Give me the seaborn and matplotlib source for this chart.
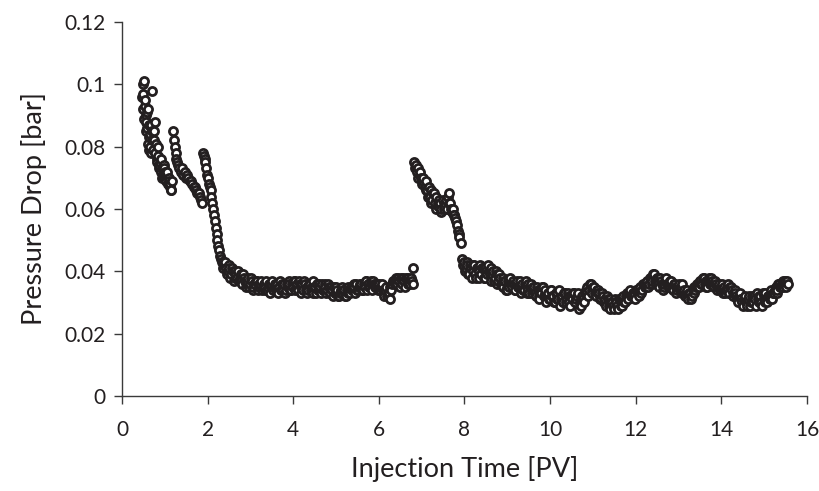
import numpy as np
import pandas as pd
import matplotlib
matplotlib.use("Agg")
import matplotlib.pyplot as plt
import seaborn as sns

# ---- data (Injection Time [PV], Pressure Drop [bar]) ----
t_seg1 = [0.47, 0.49, 0.51, 0.53, 0.55, 0.57, 0.59, 0.61, 0.63, 0.65,
          0.67, 0.69, 0.71, 0.73, 0.75, 0.77, 0.79, 0.81, 0.83, 0.85,
          0.87, 0.89, 0.91, 0.93, 0.95, 0.97, 0.99, 1.01, 1.03, 1.05,
          1.07, 1.09, 1.11, 1.13, 1.15, 1.17]
p_seg1 = [0.096, 0.100, 0.101, 0.093, 0.090, 0.088, 0.086, 0.092, 0.083, 0.080,
          0.087, 0.082, 0.098, 0.079, 0.085, 0.088, 0.081, 0.076, 0.080, 0.077,
          0.074, 0.075, 0.072, 0.073, 0.071, 0.074, 0.070, 0.072, 0.069, 0.071,
          0.068, 0.070, 0.067, 0.068, 0.066, 0.069]
t_seg1b = [0.48, 0.50, 0.52, 0.54, 0.56, 0.58, 0.60, 0.62, 0.64, 0.66,
           0.68, 0.70, 0.74, 0.78, 0.82, 0.86, 0.90, 0.94, 0.98, 1.02,
           1.06, 1.10, 1.14]
p_seg1b = [0.092, 0.097, 0.089, 0.095, 0.085, 0.091, 0.081, 0.087, 0.079, 0.084,
           0.078, 0.085, 0.082, 0.078, 0.075, 0.073, 0.076, 0.070, 0.073, 0.070,
           0.072, 0.069, 0.066]

t_seg2 = [1.19, 1.21, 1.23, 1.25, 1.27, 1.29, 1.31, 1.34, 1.37, 1.40,
          1.43, 1.46, 1.49, 1.52, 1.55, 1.58, 1.61, 1.64, 1.67, 1.70,
          1.73, 1.76, 1.79, 1.82, 1.85, 1.87]
p_seg2 = [0.085, 0.082, 0.080, 0.078, 0.076, 0.075, 0.074, 0.073, 0.072, 0.073,
          0.071, 0.072, 0.070, 0.071, 0.070, 0.069, 0.069, 0.068, 0.067, 0.067,
          0.066, 0.065, 0.065, 0.064, 0.063, 0.062]

t_seg3 = [1.89, 1.91, 1.93, 1.95, 1.97, 1.99, 2.01, 2.03, 2.05, 2.07,
          2.09, 2.11, 2.13, 2.15, 2.17, 2.19, 2.21, 2.23, 2.25, 2.27,
          2.29, 2.31, 2.33]
p_seg3 = [0.078, 0.077, 0.076, 0.075, 0.073, 0.071, 0.070, 0.068, 0.067, 0.066,
          0.064, 0.062, 0.060, 0.058, 0.056, 0.054, 0.052, 0.050, 0.048, 0.047,
          0.045, 0.044, 0.043]

t_seg4 = [2.35, 2.39, 2.43, 2.47, 2.51, 2.55, 2.59, 2.63, 2.67, 2.71,
          2.75, 2.79, 2.83, 2.87, 2.91, 2.95, 2.99, 3.03, 3.07, 3.11,
          3.15, 3.19, 3.23, 3.27, 3.31, 3.35, 3.39, 3.43, 3.47, 3.51,
          3.55, 3.59, 3.63, 3.67, 3.71, 3.75, 3.79, 3.83, 3.87, 3.91,
          3.95, 3.99, 4.03, 4.07, 4.11, 4.15, 4.19, 4.23, 4.27, 4.31,
          4.35, 4.39, 4.43, 4.47, 4.51, 4.55, 4.59, 4.63, 4.67, 4.71,
          4.75, 4.79, 4.83, 4.87, 4.91, 4.95, 4.99, 5.03, 5.07, 5.11,
          5.15, 5.19, 5.23, 5.27, 5.31, 5.35, 5.39, 5.43, 5.47, 5.51,
          5.55, 5.59, 5.63, 5.67, 5.71, 5.75, 5.79, 5.83, 5.87, 5.91,
          5.95, 5.99, 6.03, 6.07, 6.11, 6.15, 6.19, 6.23, 6.27, 6.31,
          6.35, 6.39, 6.43, 6.47, 6.51, 6.55, 6.59, 6.63, 6.67, 6.71,
          6.75, 6.79, 6.80]
p_seg4 = [0.043, 0.042, 0.041, 0.040, 0.041, 0.039, 0.040, 0.038, 0.039, 0.040,
          0.038, 0.037, 0.039, 0.037, 0.036, 0.038, 0.036, 0.037, 0.035, 0.036,
          0.037, 0.035, 0.036, 0.034, 0.036, 0.035, 0.034, 0.036, 0.035, 0.037,
          0.035, 0.034, 0.036, 0.035, 0.034, 0.035, 0.036, 0.034, 0.035, 0.036,
          0.034, 0.035, 0.037, 0.035, 0.034, 0.036, 0.035, 0.034, 0.036, 0.035,
          0.034, 0.036, 0.035, 0.033, 0.035, 0.036, 0.034, 0.035, 0.036, 0.034,
          0.035, 0.034, 0.035, 0.033, 0.034, 0.035, 0.033, 0.034, 0.032, 0.034,
          0.033, 0.034, 0.032, 0.033, 0.034, 0.035, 0.034, 0.035, 0.036, 0.034,
          0.035, 0.036, 0.034, 0.035, 0.037, 0.036, 0.035, 0.036, 0.037, 0.035,
          0.036, 0.035, 0.034, 0.036, 0.033, 0.034, 0.032, 0.033, 0.035, 0.036,
          0.037, 0.038, 0.036, 0.037, 0.038, 0.036, 0.037, 0.038, 0.036, 0.037,
          0.038, 0.036, 0.041]
t_seg4b = [2.37, 2.41, 2.45, 2.49, 2.53, 2.57, 2.61, 2.65, 2.69, 2.73,
           2.77, 2.81, 2.85, 2.89, 2.93, 2.97, 3.01, 3.05, 3.09, 3.13,
           3.17, 3.21, 3.25, 3.29, 3.33, 3.37, 3.41, 3.45, 3.49, 3.53,
           3.57, 3.61, 3.65, 3.69, 3.73, 3.77, 3.81, 3.85, 3.89, 3.93,
           3.97, 4.01, 4.05, 4.09, 4.13, 4.17, 4.21, 4.25, 4.29, 4.33,
           4.37, 4.41, 4.45, 4.49, 4.53, 4.57, 4.61, 4.65, 4.69, 4.73,
           4.77, 4.81, 4.85, 4.89, 4.93, 4.97, 5.01, 5.05, 5.09, 5.13,
           5.17, 5.21, 5.25, 5.29, 5.33, 5.37, 5.41, 5.45, 5.49, 5.53,
           5.57, 5.61, 5.65, 5.69, 5.73, 5.77, 5.81, 5.85, 5.89, 5.93,
           5.97, 6.01, 6.05, 6.09, 6.13, 6.17, 6.21, 6.25, 6.29, 6.33,
           6.37, 6.41, 6.45, 6.49, 6.53, 6.57, 6.61, 6.65, 6.69, 6.73,
           6.77]
p_seg4b = [0.041, 0.043, 0.039, 0.042, 0.038, 0.041, 0.037, 0.040, 0.038, 0.037,
           0.039, 0.036, 0.038, 0.035, 0.037, 0.035, 0.038, 0.034, 0.036, 0.037,
           0.034, 0.036, 0.037, 0.035, 0.034, 0.037, 0.035, 0.033, 0.036, 0.034,
           0.036, 0.035, 0.033, 0.037, 0.036, 0.034, 0.033, 0.036, 0.037, 0.034,
           0.036, 0.037, 0.034, 0.036, 0.037, 0.033, 0.036, 0.037, 0.034, 0.033,
           0.036, 0.034, 0.037, 0.035, 0.033, 0.034, 0.036, 0.033, 0.034, 0.036,
           0.033, 0.036, 0.033, 0.035, 0.032, 0.033, 0.035, 0.032, 0.033, 0.035,
           0.034, 0.032, 0.034, 0.035, 0.033, 0.034, 0.036, 0.033, 0.034, 0.035,
           0.036, 0.034, 0.036, 0.037, 0.034, 0.035, 0.037, 0.034, 0.036, 0.036,
           0.034, 0.036, 0.035, 0.034, 0.032, 0.035, 0.033, 0.031, 0.034, 0.037,
           0.036, 0.037, 0.038, 0.035, 0.037, 0.038, 0.035, 0.037, 0.038, 0.036,
           0.037]

t_seg5 = [6.83, 6.86, 6.89, 6.92, 6.95, 6.98, 7.01, 7.04, 7.07, 7.10,
          7.13, 7.16, 7.19, 7.22, 7.25, 7.28, 7.31, 7.34, 7.37, 7.40,
          7.43, 7.46, 7.49, 7.52, 7.55, 7.58, 7.61, 7.64, 7.67, 7.70,
          7.73, 7.76, 7.79, 7.82, 7.85, 7.88, 7.91]
p_seg5 = [0.075, 0.074, 0.072, 0.073, 0.071, 0.070, 0.068, 0.070, 0.067, 0.069,
          0.066, 0.067, 0.064, 0.066, 0.063, 0.065, 0.062, 0.064, 0.061, 0.063,
          0.062, 0.060, 0.063, 0.061, 0.062, 0.060, 0.064, 0.065, 0.062, 0.059,
          0.060, 0.058, 0.057, 0.055, 0.053, 0.051, 0.049]
t_seg5b = [6.85, 6.91, 6.97, 7.03, 7.09, 7.15, 7.21, 7.27, 7.33, 7.39,
           7.45, 7.51, 7.57, 7.63, 7.69, 7.75, 7.81, 7.87]
p_seg5b = [0.073, 0.070, 0.072, 0.069, 0.066, 0.064, 0.062, 0.065, 0.060, 0.062,
           0.059, 0.060, 0.063, 0.062, 0.060, 0.058, 0.056, 0.052]

t_seg6 = [7.95, 7.99, 8.03, 8.07, 8.11, 8.15, 8.19, 8.23, 8.27, 8.31,
          8.35, 8.39, 8.43, 8.47, 8.51, 8.55, 8.59, 8.63, 8.67, 8.71,
          8.75, 8.79, 8.83, 8.87, 8.91, 8.95, 8.99, 9.03, 9.07, 9.11,
          9.15, 9.19, 9.23, 9.27, 9.31, 9.35, 9.39, 9.43, 9.47, 9.51,
          9.55, 9.59, 9.63, 9.67, 9.71, 9.75, 9.79, 9.83, 9.87, 9.91,
          9.95, 9.99, 10.03, 10.07, 10.11, 10.15, 10.19, 10.23, 10.27, 10.31,
          10.35, 10.39, 10.43, 10.47, 10.51, 10.55, 10.59, 10.63, 10.67, 10.71,
          10.75, 10.79, 10.83, 10.87, 10.91, 10.95, 10.99, 11.03, 11.07, 11.11,
          11.15, 11.19, 11.23, 11.27, 11.31, 11.35, 11.39, 11.43, 11.47, 11.51,
          11.55, 11.59, 11.63, 11.67, 11.71, 11.75, 11.79, 11.83, 11.87, 11.91,
          11.95, 11.99, 12.03, 12.07, 12.11, 12.15, 12.19, 12.23, 12.27, 12.31,
          12.35, 12.39, 12.43, 12.47, 12.51, 12.55, 12.59, 12.63, 12.67, 12.71,
          12.75, 12.79, 12.83, 12.87, 12.91, 12.95, 12.99, 13.03, 13.07, 13.11,
          13.15, 13.19, 13.23, 13.27, 13.31, 13.35, 13.39, 13.43, 13.47, 13.51,
          13.55, 13.59, 13.63, 13.67, 13.71, 13.75, 13.79, 13.83, 13.87, 13.91,
          13.95, 13.99, 14.03, 14.07, 14.11, 14.15, 14.19, 14.23, 14.27, 14.31,
          14.35, 14.39, 14.43, 14.47, 14.51, 14.55, 14.59, 14.63, 14.67, 14.71,
          14.75, 14.79, 14.83, 14.87, 14.91, 14.95, 14.99, 15.03, 15.07, 15.11,
          15.15, 15.19, 15.23, 15.27, 15.31, 15.35, 15.39, 15.43, 15.47, 15.51,
          15.55]
p_seg6 = [0.044, 0.043, 0.041, 0.042, 0.039, 0.041, 0.040, 0.042, 0.038, 0.041,
          0.040, 0.039, 0.041, 0.038, 0.040, 0.042, 0.039, 0.037, 0.040, 0.038,
          0.039, 0.037, 0.038, 0.036, 0.035, 0.037, 0.034, 0.036, 0.038, 0.035,
          0.036, 0.034, 0.037, 0.035, 0.033, 0.036, 0.034, 0.037, 0.035, 0.033,
          0.036, 0.034, 0.035, 0.032, 0.034, 0.031, 0.033, 0.035, 0.032, 0.030,
          0.033, 0.031, 0.034, 0.032, 0.030, 0.033, 0.031, 0.029, 0.032, 0.030,
          0.033, 0.031, 0.032, 0.029, 0.031, 0.033, 0.030, 0.032, 0.028, 0.031,
          0.032, 0.030, 0.033, 0.035, 0.034, 0.036, 0.033, 0.035, 0.032, 0.034,
          0.033, 0.031, 0.032, 0.030, 0.029, 0.031, 0.028, 0.030, 0.029, 0.031,
          0.030, 0.028, 0.031, 0.029, 0.032, 0.030, 0.033, 0.031, 0.034, 0.032,
          0.033, 0.031, 0.034, 0.032, 0.035, 0.034, 0.036, 0.035, 0.037, 0.036,
          0.038, 0.037, 0.039, 0.036, 0.038, 0.035, 0.037, 0.034, 0.036, 0.038,
          0.036, 0.035, 0.037, 0.034, 0.036, 0.033, 0.035, 0.034, 0.036, 0.033,
          0.032, 0.034, 0.031, 0.033, 0.032, 0.035, 0.034, 0.036, 0.035, 0.037,
          0.036, 0.038, 0.037, 0.035, 0.038, 0.036, 0.037, 0.035, 0.036, 0.034,
          0.036, 0.035, 0.033, 0.035, 0.034, 0.036, 0.033, 0.035, 0.032, 0.034,
          0.032, 0.030, 0.033, 0.031, 0.029, 0.032, 0.030, 0.031, 0.029, 0.032,
          0.030, 0.031, 0.033, 0.030, 0.032, 0.029, 0.031, 0.033, 0.030, 0.032,
          0.034, 0.031, 0.033, 0.035, 0.034, 0.036, 0.035, 0.037, 0.036, 0.035,
          0.036]
t_seg6b = [7.97, 8.01, 8.05, 8.09, 8.13, 8.17, 8.21, 8.25, 8.29, 8.33,
           8.37, 8.41, 8.45, 8.49, 8.53, 8.57, 8.61, 8.65, 8.69, 8.73,
           8.77, 8.81, 8.85, 8.89, 8.93, 8.97, 9.01, 9.05, 9.09, 9.13,
           9.17, 9.21, 9.25, 9.29, 9.33, 9.37, 9.41, 9.45, 9.49, 9.53,
           9.57, 9.61, 9.65, 9.69, 9.73, 9.77, 9.81, 9.85, 9.89, 9.93,
           9.97, 10.01, 10.05, 10.09, 10.13, 10.17, 10.21, 10.25, 10.29, 10.33,
           10.37, 10.41, 10.45, 10.49, 10.53, 10.57, 10.61, 10.65, 10.69, 10.73,
           10.77, 10.81, 10.85, 10.89, 10.93, 10.97, 11.01, 11.05, 11.09, 11.13,
           11.17, 11.21, 11.25, 11.29, 11.33, 11.37, 11.41, 11.45, 11.49, 11.53,
           11.57, 11.61, 11.65, 11.69, 11.73, 11.77, 11.81, 11.85, 11.89, 11.93,
           11.97, 12.01, 12.05, 12.09, 12.13, 12.17, 12.21, 12.25, 12.29, 12.33,
           12.37, 12.41, 12.45, 12.49, 12.53, 12.57, 12.61, 12.65, 12.69, 12.73,
           12.77, 12.81, 12.85, 12.89, 12.93, 12.97, 13.01, 13.05, 13.09, 13.13,
           13.17, 13.21, 13.25, 13.29, 13.33, 13.37, 13.41, 13.45, 13.49, 13.53,
           13.57, 13.61, 13.65, 13.69, 13.73, 13.77, 13.81, 13.85, 13.89, 13.93,
           13.97, 14.01, 14.05, 14.09, 14.13, 14.17, 14.21, 14.25, 14.29, 14.33,
           14.37, 14.41, 14.45, 14.49, 14.53, 14.57, 14.61, 14.65, 14.69, 14.73,
           14.77, 14.81, 14.85, 14.89, 14.93, 14.97, 15.01, 15.05, 15.09, 15.13,
           15.17, 15.21, 15.25, 15.29, 15.33, 15.37, 15.41, 15.45, 15.49, 15.53]
p_seg6b = [0.042, 0.040, 0.043, 0.039, 0.042, 0.038, 0.042, 0.039, 0.041, 0.038,
           0.042, 0.041, 0.038, 0.041, 0.039, 0.040, 0.041, 0.039, 0.037, 0.040,
           0.036, 0.039, 0.036, 0.038, 0.037, 0.034, 0.037, 0.035, 0.036, 0.037,
           0.034, 0.036, 0.035, 0.037, 0.035, 0.034, 0.036, 0.033, 0.036, 0.035,
           0.033, 0.035, 0.033, 0.035, 0.032, 0.034, 0.035, 0.032, 0.034, 0.032,
           0.031, 0.034, 0.032, 0.030, 0.033, 0.031, 0.034, 0.031, 0.030, 0.033,
           0.030, 0.033, 0.030, 0.032, 0.033, 0.030, 0.031, 0.033, 0.030, 0.029,
           0.031, 0.033, 0.034, 0.032, 0.036, 0.034, 0.035, 0.033, 0.034, 0.033,
           0.031, 0.033, 0.030, 0.031, 0.032, 0.029, 0.031, 0.030, 0.028, 0.030,
           0.029, 0.031, 0.029, 0.031, 0.030, 0.032, 0.031, 0.033, 0.032, 0.033,
           0.032, 0.034, 0.033, 0.034, 0.033, 0.036, 0.035, 0.036, 0.035, 0.038,
           0.036, 0.039, 0.037, 0.038, 0.036, 0.038, 0.036, 0.035, 0.037, 0.036,
           0.035, 0.037, 0.035, 0.036, 0.035, 0.034, 0.036, 0.035, 0.033, 0.034,
           0.033, 0.032, 0.033, 0.031, 0.034, 0.033, 0.035, 0.035, 0.037, 0.036,
           0.038, 0.036, 0.035, 0.037, 0.036, 0.038, 0.036, 0.037, 0.035, 0.035,
           0.034, 0.036, 0.034, 0.033, 0.035, 0.033, 0.035, 0.034, 0.033, 0.033,
           0.031, 0.032, 0.031, 0.030, 0.031, 0.030, 0.029, 0.032, 0.030, 0.030,
           0.032, 0.029, 0.031, 0.032, 0.030, 0.033, 0.030, 0.031, 0.032, 0.031,
           0.032, 0.033, 0.034, 0.033, 0.036, 0.035, 0.036, 0.035, 0.037, 0.037]

x_ticks = [0, 2, 4, 6, 8, 10, 12, 14, 16]
y_ticks = [0, 0.02, 0.04, 0.06, 0.08, 0.1, 0.12]
y_tick_labels = ["0", "0.02", "0.04", "0.06", "0.08", "0.1", "0.12"]
x_label = "Injection Time [PV]"
y_label = "Pressure Drop [bar]"

# ---- build table ----
seg_t = [t_seg1, t_seg1b, t_seg2, t_seg3, t_seg4, t_seg4b, t_seg5, t_seg5b, t_seg6, t_seg6b]
seg_p = [p_seg1, p_seg1b, p_seg2, p_seg3, p_seg4, p_seg4b, p_seg5, p_seg5b, p_seg6, p_seg6b]
for a, b in zip(seg_t, seg_p):
    assert len(a) == len(b), (len(a), len(b))
df = pd.DataFrame({"time": sum(seg_t, []), "dp": sum(seg_p, [])})
df = df.sort_values("time", kind="stable").reset_index(drop=True)

sns.set_theme(style="white")
plt.rcParams["font.family"] = ["Lato", "DejaVu Sans"]

ink = "#231f20"
fig = plt.figure(figsize=(8.2, 4.91), dpi=100)
ax = fig.add_axes([0.1488, 0.1935, 0.8353, 0.7617])

sns.scatterplot(data=df, x="time", y="dp", ax=ax, marker="o", s=34,
                facecolor="white", edgecolor=ink, linewidth=2.0, legend=False)

ax.set_xlim(0, 16)
ax.set_ylim(0, 0.12)
ax.set_xticks(x_ticks)
ax.set_xticklabels([str(v) for v in x_ticks])
ax.set_yticks(y_ticks)
ax.set_yticklabels(y_tick_labels)

for side in ["top", "right"]:
    ax.spines[side].set_visible(False)
for side in ["left", "bottom"]:
    ax.spines[side].set_color("#3a3a3a")
    ax.spines[side].set_linewidth(1.0)

ax.tick_params(axis="both", which="major", direction="out", length=6, width=1.0,
               color="#3a3a3a", labelsize=15, labelcolor=ink,
               left=True, bottom=True)
ax.tick_params(axis="x", pad=11)
ax.tick_params(axis="y", pad=6)
ax.set_xlabel(x_label, fontsize=19.5, color=ink, labelpad=12)
ax.set_ylabel(y_label, fontsize=19.5, color=ink, labelpad=12)

fig.savefig("out.png", dpi=100)
